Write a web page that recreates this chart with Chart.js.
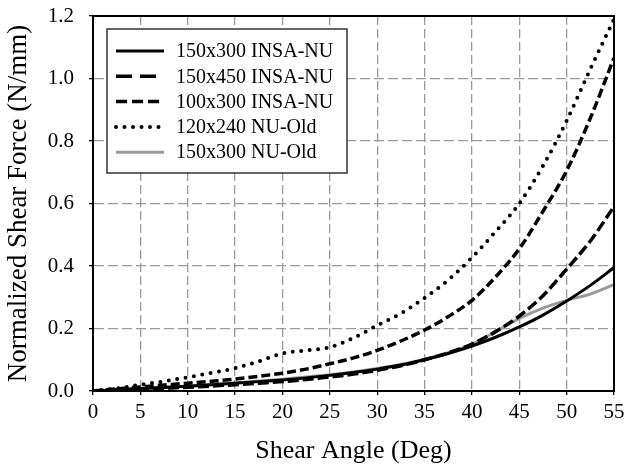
<!DOCTYPE html>
<html>
<head>
<meta charset="utf-8">
<script src="https://cdn.jsdelivr.net/npm/chart.js@4.4.1/dist/chart.umd.min.js"></script>
<style>
  html, body { margin: 0; padding: 0; background: #fff; }
  #wrap { width: 624px; height: 467px; }
</style>
</head>
<body>
<div id="wrap"><canvas id="shear-chart" width="624" height="467"></canvas></div>
<script>
// Shear angle (deg) sampled along the curves
const angles = [0, 2.5, 5, 7.5, 10, 12.5, 15, 17.5, 20, 22.5, 25, 27.5, 30,
    32.5, 35, 37.5, 40, 42.5, 45, 47.5, 50, 52.5, 55];
const anglesNuOld150 = [3, 5, 7.5, 10, 12.5, 15, 17.5, 20, 22.5, 25, 27.5, 30,
    32.5, 35, 37.5, 40, 42.5, 45, 47.5, 50, 52.5, 55];

// Normalized shear force (N/mm)
const insa150x300 = [0, 0.004, 0.008, 0.011, 0.015, 0.02, 0.025, 0.03, 0.035, 0.042, 0.05, 0.059, 0.07,
    0.083, 0.1, 0.12, 0.144, 0.172, 0.205, 0.243, 0.288, 0.338, 0.395];
const insa150x450 = [0, 0.003, 0.006, 0.009, 0.012, 0.016, 0.02, 0.025, 0.03, 0.037, 0.045, 0.054, 0.066,
    0.081, 0.1, 0.122, 0.15, 0.19, 0.24, 0.305, 0.39, 0.48, 0.59];
const insa100x300 = [0, 0.007, 0.013, 0.019, 0.025, 0.031, 0.038, 0.047, 0.057, 0.07, 0.087, 0.106, 0.13,
    0.16, 0.195, 0.238, 0.29, 0.365, 0.455, 0.575, 0.705, 0.873, 1.066];
const nuOld120x240 = [0, 0.008, 0.02, 0.031, 0.044, 0.058, 0.073, 0.095, 0.12, 0.13, 0.14, 0.17, 0.21,
    0.248, 0.298, 0.355, 0.427, 0.51, 0.6, 0.72, 0.865, 1.03, 1.19];
const nuOld150x300 = [0.003, 0.008, 0.012, 0.016, 0.021, 0.026, 0.032, 0.038, 0.045, 0.052, 0.061, 0.072,
    0.085, 0.102, 0.123, 0.15, 0.19, 0.232, 0.265, 0.29, 0.31, 0.34];

const seriesLabels = ['150x300 INSA-NU', '150x450 INSA-NU', '100x300 INSA-NU', '120x240 NU-Old', '150x300 NU-Old'];
const xTicks = { min: 0, max: 55, step: 5 };
const yTicks = { min: 0, max: 1.2, step: 0.2 };

const FONT = "'Liberation Serif', 'Times New Roman', serif";

function toPoints(xs, ys) {
    return xs.map((x, i) => ({ x: x, y: ys[i] }));
}

// Legend drawn inside the plot, with a framed box; plus the plot frame
const boxLegend = {
    id: 'boxLegend',
    afterDatasetsDraw(chart) {
        const { ctx, chartArea } = chart;
        const left = chartArea.left + 14;
        const top = chartArea.top + 13;
        const w = 240, h = 144;
        ctx.save();
        ctx.fillStyle = '#fff';
        ctx.fillRect(left, top, w, h);
        ctx.strokeStyle = '#333';
        ctx.lineWidth = 1.5;
        ctx.strokeRect(left, top, w, h);

        ctx.font = '20px ' + FONT;
        ctx.textBaseline = 'middle';
        chart.data.datasets.forEach((ds, i) => {
            const y = top + 22 + i * 25.3;
            ctx.beginPath();
            ctx.strokeStyle = ds.borderColor;
            ctx.lineWidth = ds.borderWidth;
            ctx.lineCap = ds.borderCapStyle || 'butt';
            ctx.setLineDash(ds.legendDash || []);
            ctx.moveTo(left + 9, y);
            ctx.lineTo(left + 57, y);
            ctx.stroke();
            ctx.setLineDash([]);
            ctx.fillStyle = '#000';
            ctx.fillText(ds.label, left + 69, y + 1);
        });
        ctx.restore();
    },
    afterDraw(chart) {
        const { ctx, chartArea } = chart;
        ctx.save();
        ctx.strokeStyle = '#000';
        ctx.lineWidth = 2;
        ctx.strokeRect(chartArea.left, chartArea.top,
            chartArea.right - chartArea.left, chartArea.bottom - chartArea.top);
        ctx.restore();
    }
};

const lineBase = {
    fill: false,
    pointRadius: 0,
    cubicInterpolationMode: 'monotone',
    showLine: true
};

const ctx = document.getElementById('shear-chart');
new Chart(ctx, {
    type: 'scatter',
    data: {
        datasets: [{
            ...lineBase,
            label: seriesLabels[0],
            data: toPoints(angles, insa150x300),
            borderColor: '#000',
            borderWidth: 3,
            legendDash: []
        }, {
            ...lineBase,
            label: seriesLabels[1],
            data: toPoints(angles, insa150x450),
            borderColor: '#000',
            borderWidth: 3.5,
            borderDash: [11, 4],
            legendDash: [16, 8]
        }, {
            ...lineBase,
            label: seriesLabels[2],
            data: toPoints(angles, insa100x300),
            borderColor: '#000',
            borderWidth: 3.5,
            borderDash: [9, 4],
            legendDash: [11, 5]
        }, {
            ...lineBase,
            label: seriesLabels[3],
            data: toPoints(angles, nuOld120x240),
            borderColor: '#000',
            borderWidth: 4,
            borderCapStyle: 'round',
            borderDash: [0, 8.5],
            legendDash: [0, 8.5]
        }, {
            ...lineBase,
            label: seriesLabels[4],
            data: toPoints(anglesNuOld150, nuOld150x300),
            borderColor: '#999',
            borderWidth: 3,
            legendDash: []
        }]
    },
    options: {
        responsive: false,
        animation: false,
        layout: { padding: { top: 16, right: 10, left: 0, bottom: 0 } },
        plugins: {
            legend: { display: false },
            tooltip: { enabled: false }
        },
        scales: {
            x: {
                type: 'linear',
                min: xTicks.min,
                max: xTicks.max,
                afterFit: (scale) => {
                    scale.height = 76;
                    scale.paddingLeft = 0;
                    scale.paddingRight = 0;
                },
                ticks: {
                    stepSize: xTicks.step,
                    color: '#000',
                    font: { family: FONT, size: 21 },
                    padding: 5,
                    maxRotation: 0
                },
                grid: {
                    color: '#9a9a9a',
                    lineWidth: 1.3,
                    tickColor: '#000',
                    tickBorderDash: [],
                    tickLength: 4,
                    tickWidth: 1.3
                },
                border: { display: true, color: '#000', width: 2, dash: [9, 4] },
                title: {
                    display: true,
                    text: 'Shear Angle (Deg)',
                    color: '#000',
                    font: { family: FONT, size: 26 },
                    padding: { top: 0, bottom: 0 }
                }
            },
            y: {
                type: 'linear',
                min: yTicks.min,
                max: yTicks.max,
                afterFit: (scale) => {
                    scale.width = 93;
                    scale.paddingTop = 0;
                    scale.paddingBottom = 0;
                },
                ticks: {
                    stepSize: yTicks.step,
                    color: '#000',
                    font: { family: FONT, size: 21 },
                    padding: 15,
                    callback: (v) => v.toFixed(1)
                },
                grid: {
                    color: '#9a9a9a',
                    lineWidth: 1.3,
                    tickColor: '#000',
                    tickBorderDash: [],
                    tickLength: 4,
                    tickWidth: 1.3
                },
                border: { display: true, color: '#000', width: 2, dash: [10, 4] },
                title: {
                    display: true,
                    text: 'Normalized Shear Force (N/mm)',
                    color: '#000',
                    font: { family: FONT, size: 27 },
                    padding: { top: 3, bottom: 0 }
                }
            }
        }
    },
    plugins: [boxLegend]
});
</script>
</body>
</html>
